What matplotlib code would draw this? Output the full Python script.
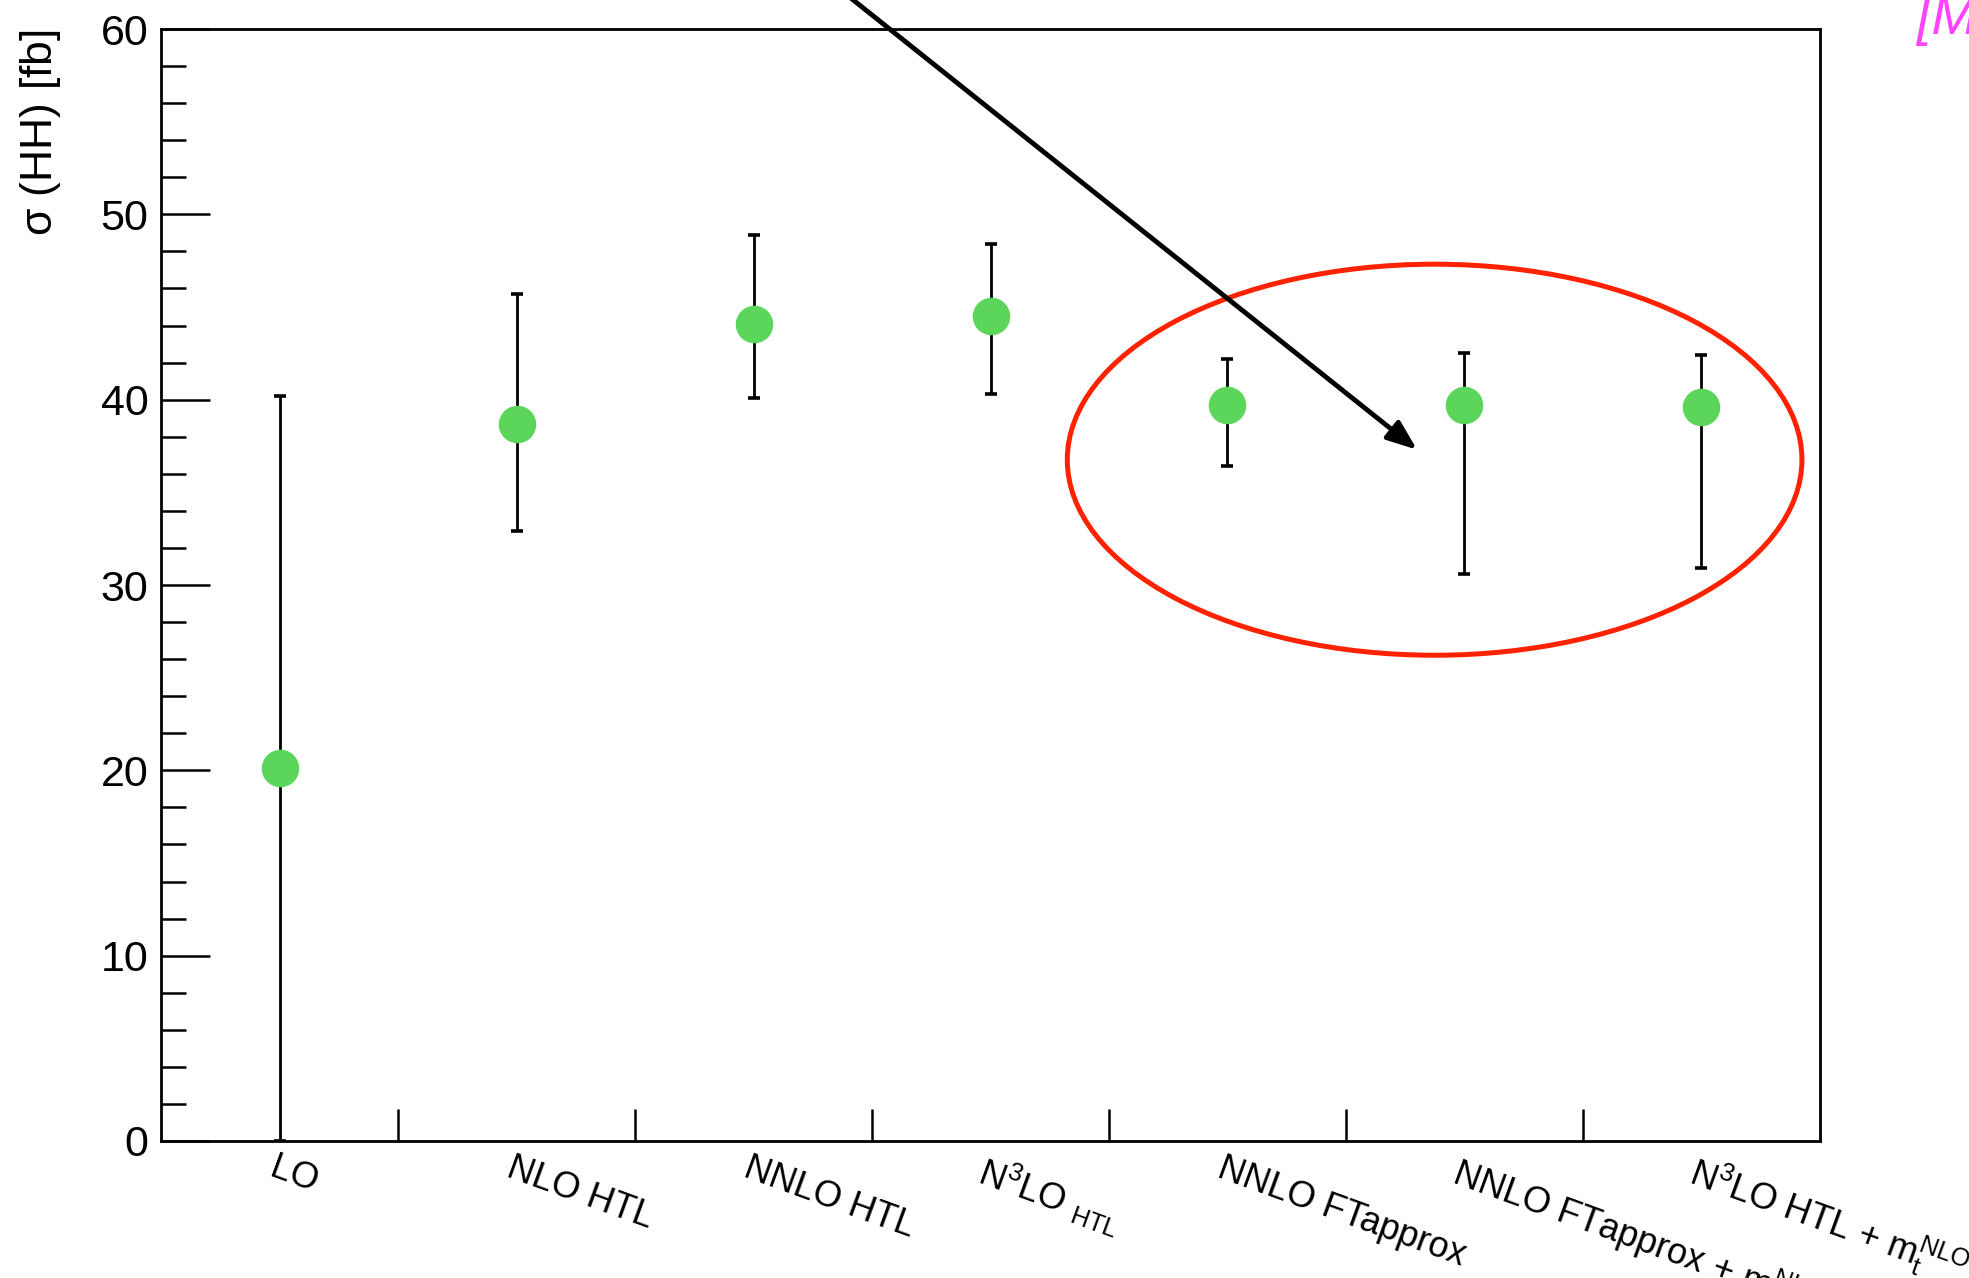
import numpy as np
import matplotlib
matplotlib.use("Agg")
import matplotlib.pyplot as plt
from matplotlib.patches import Ellipse

plt.rcParams["font.family"] = ["Liberation Sans", "DejaVu Sans"]
plt.rcParams["mathtext.fontset"] = "custom"
plt.rcParams["mathtext.rm"] = "Liberation Sans"
plt.rcParams["mathtext.it"] = "Liberation Sans"
plt.rcParams["mathtext.bf"] = "Liberation Sans:bold"

# === datos ===
ordenes = ["LO", "NLO HTL", "NNLO HTL", r"N$^{3}$LO $_{\mathrm{HTL}}$",
           "NNLO FTapprox", r"NNLO FTapprox + m$_{t}^{\mathrm{NLO}}$",
           r"N$^{3}$LO HTL + m$_{t}^{\mathrm{NLO}}$"]
sigma = [20.1, 38.7, 44.1, 44.5, 39.7, 39.7, 39.6]
err_arriba = [20.1, 7.0, 4.8, 3.9, 2.5, 2.8, 2.8]
err_abajo = [20.1, 5.8, 4.0, 4.2, 3.3, 9.1, 8.7]

x = np.arange(len(ordenes)) + 0.5

fig = plt.figure(figsize=(19.69, 12.78), dpi=100)
ax = fig.add_axes([0.0818, 0.1072, 0.8425, 0.8701])

ax.errorbar(x, sigma, yerr=[err_abajo, err_arriba], fmt="none", ecolor="black",
            elinewidth=2.0, capsize=4, capthick=2.6, zorder=2)
ax.plot(x, sigma, "o", color="#5bd65b", markersize=27, markeredgewidth=0, zorder=3)

ax.set_xlim(0, len(ordenes))
ax.set_ylim(0, 60)

# ejes estilo ROOT
for s in ax.spines.values():
    s.set_linewidth(2.0)
ax.set_yticks(np.arange(0, 61, 10))
ax.set_yticks(np.arange(0, 61, 2), minor=True)
ax.tick_params(axis="y", which="major", direction="in", length=35, width=1.8,
               labelsize=31, pad=9, right=False)
ax.tick_params(axis="y", which="minor", direction="in", length=18, width=1.8, right=False)
ax.set_xticks(np.arange(1, len(ordenes)))
ax.tick_params(axis="x", which="major", direction="in", length=23, width=1.8,
               labelbottom=False, top=False)
ax.tick_params(axis="x", which="minor", length=0, top=False)

for xi, lab in zip(x, ordenes):
    ax.annotate(lab, xy=(xi, 0), xycoords="data", xytext=(-2, -7),
                textcoords="offset points", rotation=-20, rotation_mode="anchor",
                ha="left", va="top", fontsize=26, annotation_clip=False)

ax.set_ylabel(r"$\sigma$ (HH) [fb]", fontsize=32, loc="top")
ax.yaxis.set_label_coords(-0.059, 1.0)

# elipse y flecha
ax.add_patch(Ellipse((5.374, 36.76), 3.10, 21.1, fill=False, edgecolor="#ff2200",
                     linewidth=3.6, zorder=4))
ax.annotate("", xy=(5.30, 37.3), xytext=(2.78, 63.0),
            arrowprops=dict(arrowstyle="-|>,head_length=1.8,head_width=0.7",
                            color="black", lw=3.5, shrinkA=0, shrinkB=0),
            annotation_clip=False, zorder=5)

fig.text(0.973, 1.005, "[M", color="#ff44ff", fontsize=40, style="italic",
         ha="left", va="top")

fig.savefig("out.png", dpi=100)
